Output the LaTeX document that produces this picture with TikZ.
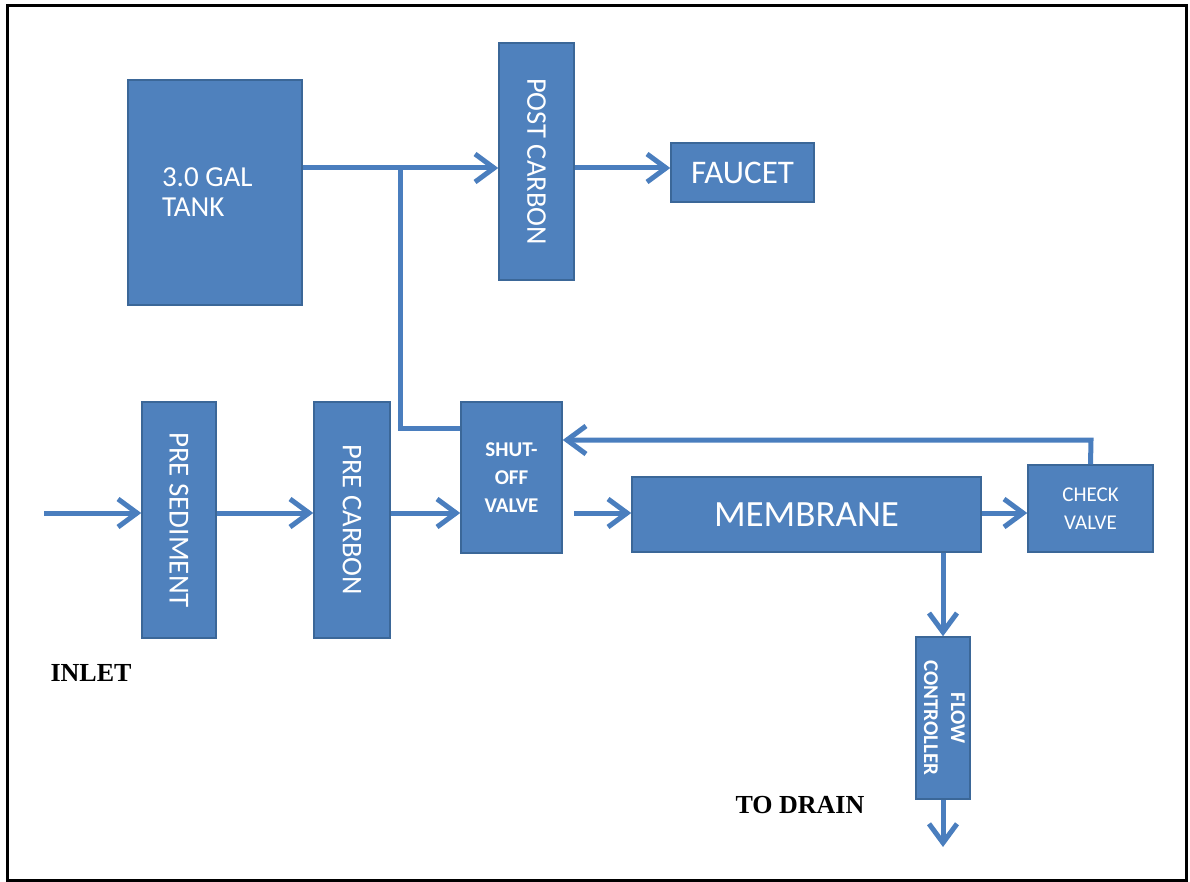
\documentclass[tikz,border=0pt]{standalone}
\usepackage{fontspec}
\setmainfont{Carlito}
\newfontfamily\lblfont{Liberation Serif}
\usetikzlibrary{arrows.meta}
\definecolor{boxblue}{HTML}{4F81BD}
\definecolor{boxedge}{HTML}{3B6798}
\definecolor{pipeblue}{HTML}{4A7EBE}
\begin{document}
\begin{tikzpicture}[x=1pt,y=-1pt,
  box/.style={draw=boxedge, line width=1.5pt, fill=boxblue, text=white, inner sep=0pt, align=center},
  pipe/.style={draw=pipeblue, line width=5pt},
  flow/.style={pipe, -{Straight Barb[length=19pt,width=28pt]}},
  lbl/.style={font=\lblfont\bfseries\fontsize{26}{28}\selectfont, text=black, inner sep=0pt}
]
\useasboundingbox (0,0) rectangle (1190,882);
\draw[line width=3pt] (7,6) rectangle (1186,880);

% boxes
\node[box, minimum width=174pt, minimum height=225pt, font=\fontsize{29}{30}\selectfont, text width=106pt, align=flush left] (tank) at (215,192.5) {3.0 GAL\\TANK};
\node[box, minimum width=75pt, minimum height=237pt, font=\fontsize{28.5}{30}\selectfont] (pcb) at (536.5,161.5) {\rotatebox{-90}{POST CARBON}};
\node[box, minimum width=143pt, minimum height=59pt, font=\fontsize{33}{35}\selectfont] (fct) at (742.5,172.5) {FAUCET};
\node[box, minimum width=74pt, minimum height=236pt, font=\fontsize{29}{30}\selectfont] (ps) at (179,520) {\rotatebox{-90}{PRE SEDIMENT}};
\node[box, minimum width=76pt, minimum height=236pt, font=\fontsize{28.5}{30}\selectfont] (pc) at (352,520) {\rotatebox{-90}{PRE CARBON}};
\node[box, minimum width=101pt, minimum height=151pt, font=\bfseries\fontsize{21}{28}\selectfont] (sov) at (511.5,477.5) {SHUT-\\OFF\\VALVE};
\node[box, minimum width=349pt, minimum height=75pt, font=\fontsize{37}{40}\selectfont] (mem) at (806.5,514.5) {MEMBRANE};
\node[box, minimum width=125pt, minimum height=87pt, font=\fontsize{21}{28}\selectfont] (cv) at (1090.5,508.5) {CHECK\\VALVE};
\node[box, minimum width=52pt, minimum height=162pt, font=\bfseries\fontsize{21}{27}\selectfont] (flc) at (943,718) {\rotatebox{-90}{\begin{tabular}{@{}c@{}}FLOW\\CONTROLLER\end{tabular}}};

% labels
\node[lbl] (inlet) at (91,673) {INLET};
\node[lbl] (todrain) at (800,805) {TO DRAIN};

% coordinates
\coordinate (inl) at (44,513);
\coordinate (ty) at (0,168);
\coordinate (br) at (400,168);
\coordinate (bj) at (400,428);
\coordinate (fb) at (1091,440);
\coordinate (drain) at (943,847);
\coordinate (ms) at (574,513);

% connectors
\draw[flow] (inl) -- (inl -| ps.west);
\draw[flow] (ps.east |- inl) -- (pc.west |- inl);
\draw[flow] (pc.east |- inl) -- (sov.west |- inl);
\draw[flow] (ms) -- (mem.west |- inl);
\draw[flow] (mem.east |- inl) -- (cv.west |- inl);
\draw[flow] (cv.north) -- (fb) -- (fb -| sov.east);
\draw[flow] (tank.east |- ty) -- (pcb.west |- ty);
\draw[flow] (pcb.east |- ty) -- (fct.west |- ty);
\draw[pipe] (br) -- (bj) -- (bj -| sov.west);
\draw[flow] (flc.north |- mem.south) -- (flc.north);
\draw[flow] (flc.south) -- (drain);
\end{tikzpicture}
\end{document}
